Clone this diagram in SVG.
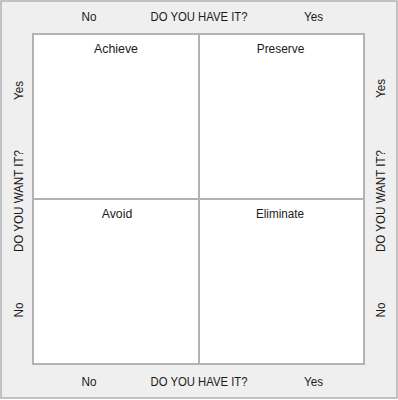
<svg xmlns="http://www.w3.org/2000/svg" width="398" height="400" viewBox="0 0 398 400">
<style>
.t{font-family:"Liberation Sans",Arial,sans-serif;font-size:12.5px;fill:#1a1a1a;text-anchor:middle}
.box{fill:#fff;stroke:#b3b3b3;stroke-width:2}
.ln{stroke:#b3b3b3;stroke-width:2;fill:none}
</style>
<rect x="1" y="1" width="396" height="397" fill="#efefef" stroke="#b0b0b0" stroke-width="1.5"/>
<g id="grid">
<rect class="box" x="33" y="34" width="331" height="330"/>
</g>
<g id="connectors">
<line class="ln" x1="199" y1="34" x2="199" y2="364"/>
<line class="ln" x1="33" y1="199" x2="364" y2="199"/>
</g>
<g id="top-axis">
<text class="t" x="89" y="21" textLength="15" lengthAdjust="spacingAndGlyphs">No</text>
<text class="t" x="199" y="21" textLength="97" lengthAdjust="spacingAndGlyphs">DO YOU HAVE IT?</text>
<text class="t" x="313.5" y="21" textLength="19" lengthAdjust="spacingAndGlyphs">Yes</text>
</g>
<g id="bottom-axis">
<text class="t" x="89" y="386" textLength="15" lengthAdjust="spacingAndGlyphs">No</text>
<text class="t" x="199" y="386" textLength="97" lengthAdjust="spacingAndGlyphs">DO YOU HAVE IT?</text>
<text class="t" x="313.5" y="386" textLength="19" lengthAdjust="spacingAndGlyphs">Yes</text>
</g>
<g id="left-axis">
<text class="t" transform="translate(22.5,90.5) rotate(-90)" textLength="19" lengthAdjust="spacingAndGlyphs">Yes</text>
<text class="t" transform="translate(22.5,201) rotate(-90)" textLength="102" lengthAdjust="spacingAndGlyphs">DO YOU WANT IT?</text>
<text class="t" transform="translate(22.5,310) rotate(-90)" textLength="15" lengthAdjust="spacingAndGlyphs">No</text>
</g>
<g id="right-axis">
<text class="t" transform="translate(385,88.5) rotate(-90)" textLength="19" lengthAdjust="spacingAndGlyphs">Yes</text>
<text class="t" transform="translate(385,201) rotate(-90)" textLength="102" lengthAdjust="spacingAndGlyphs">DO YOU WANT IT?</text>
<text class="t" transform="translate(385,310) rotate(-90)" textLength="15" lengthAdjust="spacingAndGlyphs">No</text>
</g>
<g id="achieve"><text class="t" x="116" y="53" textLength="44" lengthAdjust="spacingAndGlyphs">Achieve</text></g>
<g id="preserve"><text class="t" x="280.5" y="53" textLength="47.5" lengthAdjust="spacingAndGlyphs">Preserve</text></g>
<g id="avoid"><text class="t" x="117" y="218" textLength="30.5" lengthAdjust="spacingAndGlyphs">Avoid</text></g>
<g id="eliminate"><text class="t" x="280" y="218" textLength="48" lengthAdjust="spacingAndGlyphs">Eliminate</text></g>
</svg>
